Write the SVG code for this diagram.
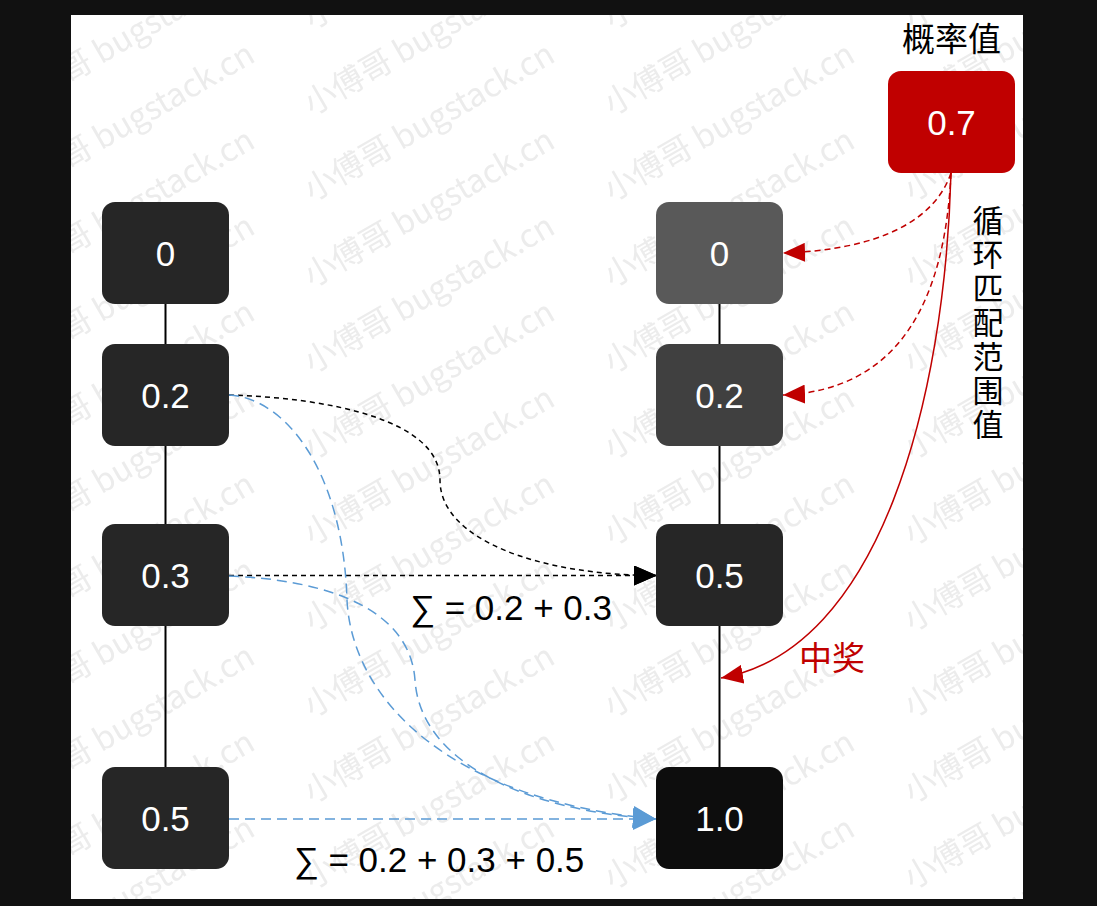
<svg xmlns="http://www.w3.org/2000/svg" width="1097" height="906" viewBox="0 0 1097 906">
<style>
.nt{font-family:"Liberation Sans",Arial,sans-serif;font-size:35px;fill:#fff;text-anchor:middle}
.cjk{font-family:"Noto Sans CJK SC","Noto Sans",sans-serif;font-size:33px;text-anchor:middle}
.sum{font-family:"Liberation Sans",Arial,"Noto Sans",sans-serif;font-size:35px;fill:#000;text-anchor:middle}
.wm{font-family:"Noto Sans CJK SC",sans-serif;font-size:32px;fill:#ececec}
.bd{fill:none;stroke:#000;stroke-width:1.5;stroke-dasharray:5 4}
.bl{fill:none;stroke:#5b9bd5;stroke-width:1.5;stroke-dasharray:10 6}
.rd{fill:none;stroke:#c00000;stroke-width:1.5;stroke-dasharray:6 4}
.rs{fill:none;stroke:#c00000;stroke-width:1.5}
.vl{stroke:#000;stroke-width:2}
</style>
<defs>
<pattern id="wmp" patternUnits="userSpaceOnUse" x="0" y="0" width="300" height="86">
<text class="wm" transform="translate(12,30) rotate(-30)">小傅哥 bugstack.cn</text>
<text class="wm" transform="translate(12,116) rotate(-30)">小傅哥 bugstack.cn</text>
<text class="wm" transform="translate(12,202) rotate(-30)">小傅哥 bugstack.cn</text>
</pattern>
<marker id="ak" viewBox="0 0 23 20" refX="23" refY="10" markerWidth="23" markerHeight="20" markerUnits="userSpaceOnUse" orient="auto"><path d="M0,0L23,10L0,20Z" fill="#000"/></marker>
<marker id="ab" viewBox="0 0 23 22" refX="23" refY="11" markerWidth="23" markerHeight="22" markerUnits="userSpaceOnUse" orient="auto"><path d="M0,0L23,11L0,22Z" fill="#5b9bd5"/></marker>
<marker id="ar" viewBox="0 0 22 19" refX="22" refY="9.5" markerWidth="22" markerHeight="19" markerUnits="userSpaceOnUse" orient="auto"><path d="M0,0L22,9.5L0,19Z" fill="#c00000"/></marker>
</defs>
<rect x="0" y="0" width="1097" height="906" fill="#111"/>
<rect x="71" y="15" width="952" height="884" fill="#fff"/>
<rect x="71" y="15" width="952" height="884" fill="url(#wmp)"/>

<g id="connectors">
<line class="vl" x1="165.5" y1="304" x2="165.5" y2="767"/>
<line class="vl" x1="719.5" y1="304" x2="719.5" y2="767"/>
<path class="bd" d="M229,395 C330,398 440,420 440,480 C440,540 540,575.5 657,575.5" marker-end="url(#ak)"/>
<path class="bd" d="M229,575.5 L657,575.5" marker-end="url(#ak)"/>
<path class="bl" d="M229,395 C285,398 343,470 347,600 C352,700 450,800 656,819" marker-end="url(#ab)"/>
<path class="bl" d="M229,576 C330,580 410,610 415,680 C420,760 520,810 656,819" marker-end="url(#ab)"/>
<path class="bl" d="M229,819 L656,819" marker-end="url(#ab)"/>
<path class="rd" d="M951,173 C935,220 880,250 783,253" marker-end="url(#ar)"/>
<path class="rd" d="M951,173 C945,300 900,390 783,395" marker-end="url(#ar)"/>
<path class="rs" d="M951,173 C945,400 880,650 721,678" marker-end="url(#ar)"/>
</g>

<g id="node-l0"><rect x="102" y="202" width="127" height="102" rx="13" fill="#262626"/><text class="nt" x="165.5" y="266">0</text></g>
<g id="node-l02"><rect x="102" y="344" width="127" height="102" rx="13" fill="#262626"/><text class="nt" x="165.5" y="408">0.2</text></g>
<g id="node-l03"><rect x="102" y="524" width="127" height="102" rx="13" fill="#262626"/><text class="nt" x="165.5" y="588">0.3</text></g>
<g id="node-l05"><rect x="102" y="767" width="127" height="102" rx="13" fill="#262626"/><text class="nt" x="165.5" y="831">0.5</text></g>

<g id="node-r0"><rect x="656" y="202" width="127" height="102" rx="13" fill="#595959"/><text class="nt" x="719.5" y="266">0</text></g>
<g id="node-r02"><rect x="656" y="344" width="127" height="102" rx="13" fill="#404040"/><text class="nt" x="719.5" y="408">0.2</text></g>
<g id="node-r05"><rect x="656" y="524" width="127" height="102" rx="13" fill="#262626"/><text class="nt" x="719.5" y="588">0.5</text></g>
<g id="node-r10"><rect x="656" y="767" width="127" height="102" rx="13" fill="#0d0d0d"/><text class="nt" x="719.5" y="831">1.0</text></g>

<g id="node-p07"><rect x="888" y="71" width="127" height="102" rx="13" fill="#c00000"/><text class="nt" x="951.5" y="135">0.7</text></g>

<g id="labels">
<text class="cjk" x="951.5" y="51" fill="#000">概率值</text>
<text x="988" y="205" fill="#000" font-family="Noto Sans CJK SC, sans-serif" font-size="31" writing-mode="vertical-rl" letter-spacing="3">循环匹配范围值</text>
<text class="cjk" x="832" y="670" fill="#c00000">中奖</text>
<text class="sum" x="511" y="620">∑ = 0.2 + 0.3</text>
<text class="sum" x="439" y="872">∑ = 0.2 + 0.3 + 0.5</text>
</g>
</svg>
